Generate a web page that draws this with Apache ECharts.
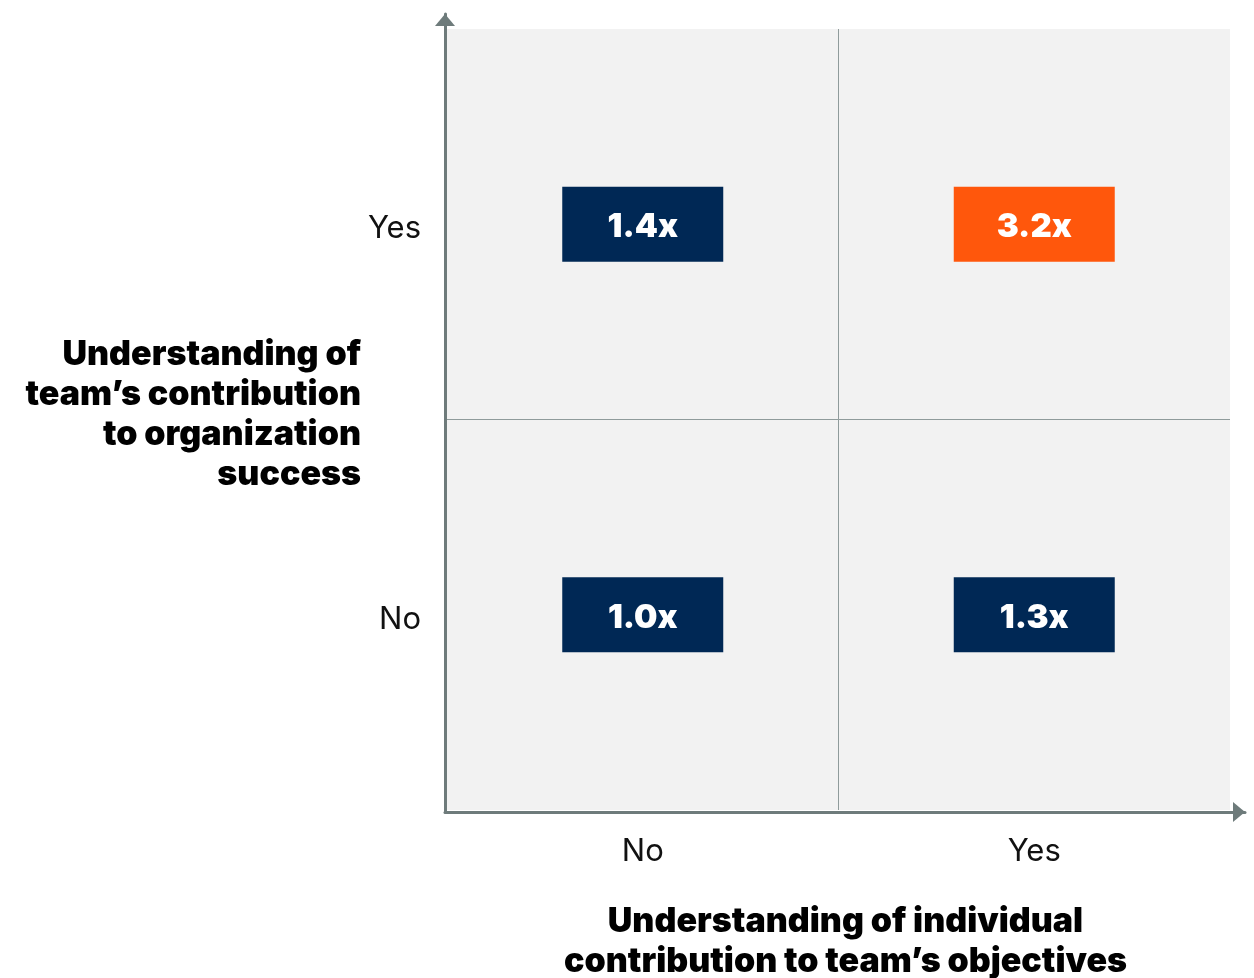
<!DOCTYPE html>
<html>
<head>
<meta charset="utf-8">
<script src="https://cdn.jsdelivr.net/npm/echarts@6/dist/echarts.min.js"></script>
<style>
  html, body { margin: 0; padding: 0; background: #ffffff; }
  #chart { width: 1254px; height: 978px; }
</style>
</head>
<body>
<div id="chart"></div>
<script>
// Categories on each axis
const xCategories = ['No', 'Yes'];
const yCategories = ['No', 'Yes'];

// Multiplier for each quadrant: [x category, y category, value]
const quadrantX = ['No', 'Yes', 'No', 'Yes'];
const quadrantY = ['Yes', 'Yes', 'No', 'No'];
const quadrantValues = [1.4, 3.2, 1.0, 1.3];

const xTitleLines = ['Understanding of individual', 'contribution to team\u2019s objectives'];
const yTitleLines = ['Understanding of', 'team\u2019s contribution', 'to organization', 'success'];

const NAVY = '#002855';
const ORANGE = '#FF570C';
const AXIS_GREY = '#6E7B7B';
const DIVIDER = '#8F9B9B';
const FONT = 'Inter';

const maxValue = Math.max(...quadrantValues);
const points = quadrantValues.map((v, i) => ({
  value: [quadrantX[i], quadrantY[i], v],
  itemStyle: { color: v === maxValue ? ORANGE : NAVY, opacity: 1 }
}));

// y-axis title as rich text; the short trailing spacer line lifts the block slightly
const yTitle = yTitleLines.map(l => '{t|' + l + '}').join('\n') + '\n{s| }';

const chart = echarts.init(document.getElementById('chart'));

chart.setOption({
  animation: false,
  grid: [
    // outer frame carrying the arrowed axis lines
    { left: 445, right: 9, top: 14, bottom: 166, show: false, outerBoundsMode: 'none' },
    // shaded quadrant area
    { left: 447, right: 24, top: 29, bottom: 168, show: true, outerBoundsMode: 'none',
      backgroundColor: '#F2F2F2', borderWidth: 0 }
  ],
  xAxis: [
    {
      gridIndex: 0, type: 'value', min: 0, max: 1,
      axisLine: { show: true, symbol: ['none', 'triangle'], symbolSize: [20, 12],
        symbolOffset: [0, -6], lineStyle: { color: AXIS_GREY, width: 3 } },
      axisTick: { show: false }, axisLabel: { show: false }, splitLine: { show: false }
    },
    {
      gridIndex: 1, type: 'category', data: xCategories,
      axisLine: { show: false }, axisTick: { show: false },
      axisLabel: { fontFamily: FONT, fontSize: 31, color: '#111111', margin: 26 },
      splitLine: { show: true, lineStyle: { color: ['transparent', DIVIDER, 'transparent'], width: 1 } },
      name: xTitleLines.join('\n'), nameLocation: 'middle', nameGap: 92,
      nameTextStyle: { fontFamily: FONT, fontWeight: 900, fontSize: 34, lineHeight: 40,
        color: '#000000', align: 'center', verticalAlign: 'top', padding: [0, 0, 0, 14] }
    }
  ],
  yAxis: [
    {
      gridIndex: 0, type: 'value', min: 0, max: 1,
      axisLine: { show: true, symbol: ['none', 'triangle'], symbolSize: [20, 12],
        symbolOffset: [0, -6], lineStyle: { color: AXIS_GREY, width: 3 } },
      axisTick: { show: false }, axisLabel: { show: false }, splitLine: { show: false }
    },
    {
      gridIndex: 1, type: 'category', data: yCategories,
      axisLine: { show: false }, axisTick: { show: false },
      axisLabel: {
        margin: 26,
        // a short spacer line above each label nudges it down a little
        formatter: v => '{s| }\n{v|' + v + '}',
        rich: {
          s: { fontSize: 8, lineHeight: 9 },
          v: { fontFamily: FONT, fontSize: 31, lineHeight: 36, color: '#111111' }
        }
      },
      splitLine: { show: true, lineStyle: { color: ['transparent', DIVIDER, 'transparent'], width: 1 } },
      name: yTitle, nameLocation: 'middle', nameRotate: 0, nameGap: 86,
      nameTextStyle: {
        align: 'right', verticalAlign: 'middle',
        rich: {
          t: { fontFamily: FONT, fontWeight: 900, fontSize: 34, lineHeight: 40, color: '#000000', align: 'right' },
          s: { fontSize: 8, lineHeight: 9, align: 'right' }
        }
      }
    }
  ],
  series: [
    {
      type: 'scatter',
      xAxisIndex: 1, yAxisIndex: 1,
      symbol: 'rect',
      symbolSize: [161, 75],
      data: points,
      label: {
        show: true, position: 'inside', offset: [0, 3],
        formatter: p => p.value[2].toFixed(1) + 'x',
        fontFamily: FONT, fontWeight: 900, fontSize: 33, color: '#ffffff'
      },
      emphasis: { disabled: true }
    }
  ]
});
</script>
</body>
</html>
